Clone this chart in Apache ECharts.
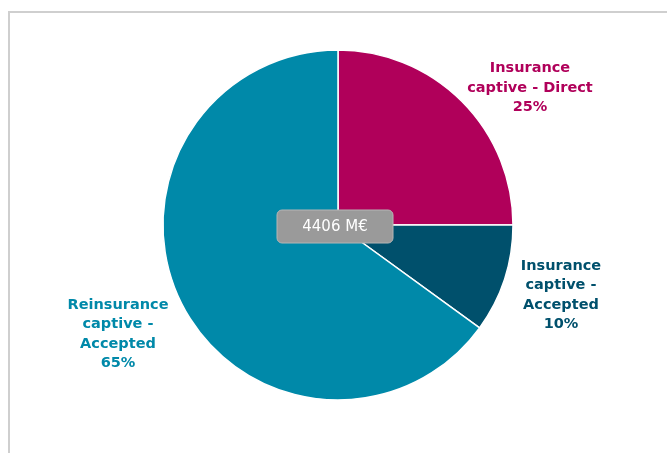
<!DOCTYPE html>
<html>
<head>
<meta charset="utf-8">
<script src="https://cdn.jsdelivr.net/npm/echarts@6/dist/echarts.min.js"></script>
<style>
  html, body { margin: 0; padding: 0; background: #fff; }
  #chart { width: 667px; height: 453px; }
</style>
</head>
<body>
<div id="chart"></div>
<script>
// Captive premium split (share of total, %)
const categories = ['Insurance\ncaptive - Direct', 'Insurance\ncaptive -\nAccepted', 'Reinsurance\ncaptive -\nAccepted'];
const shares = [25, 10, 65];
const totalPremium = 4406; // M€
const colors = ['#b0005a', '#00506c', '#0089a9'];

// Where each slice label sits
const labelSpots = [[530, 88], [561, 295], [118, 334]];

const chart = echarts.init(document.getElementById('chart'), null, { renderer: 'canvas' });

chart.setOption({
  animation: false,
  graphic: [
    {
      type: 'rect',
      shape: { x: 9, y: 12, width: 700, height: 460 },
      style: { fill: 'none', stroke: '#cfcfcf', lineWidth: 2 },
      z: 0
    },
    {
      type: 'rect',
      z: 10,
      shape: { x: 277, y: 210, width: 116, height: 33, r: 5 },
      style: { fill: '#9a9a9a', stroke: '#b5b5b5', lineWidth: 1 }
    },
    {
      type: 'text',
      z: 11,
      x: 335, y: 227,
      style: {
        text: totalPremium + ' M€',
        fill: '#ffffff',
        font: '15px "DejaVu Sans", sans-serif',
        align: 'center',
        verticalAlign: 'middle'
      }
    }
  ],
  series: [{
    type: 'pie',
    center: [338, 225],
    radius: [0, 175],
    startAngle: 90,
    clockwise: true,
    itemStyle: { borderColor: '#ffffff', borderWidth: 1.5 },
    labelLine: { show: false },
    label: {
      show: true,
      position: 'outside',
      formatter: p => p.name + '\n' + p.value + '%',
      fontFamily: '"DejaVu Sans", sans-serif',
      fontWeight: 'bold',
      fontSize: 14.5,
      lineHeight: 19.5,
      align: 'center'
    },
    labelLayout: p => ({
      x: labelSpots[p.dataIndex][0],
      y: labelSpots[p.dataIndex][1],
      align: 'center',
      verticalAlign: 'middle'
    }),
    emphasis: { disabled: true },
    data: categories.map((name, i) => ({
      name: name,
      value: shares[i],
      itemStyle: { color: colors[i] },
      label: { color: colors[i] }
    }))
  }]
});
</script>
</body>
</html>
